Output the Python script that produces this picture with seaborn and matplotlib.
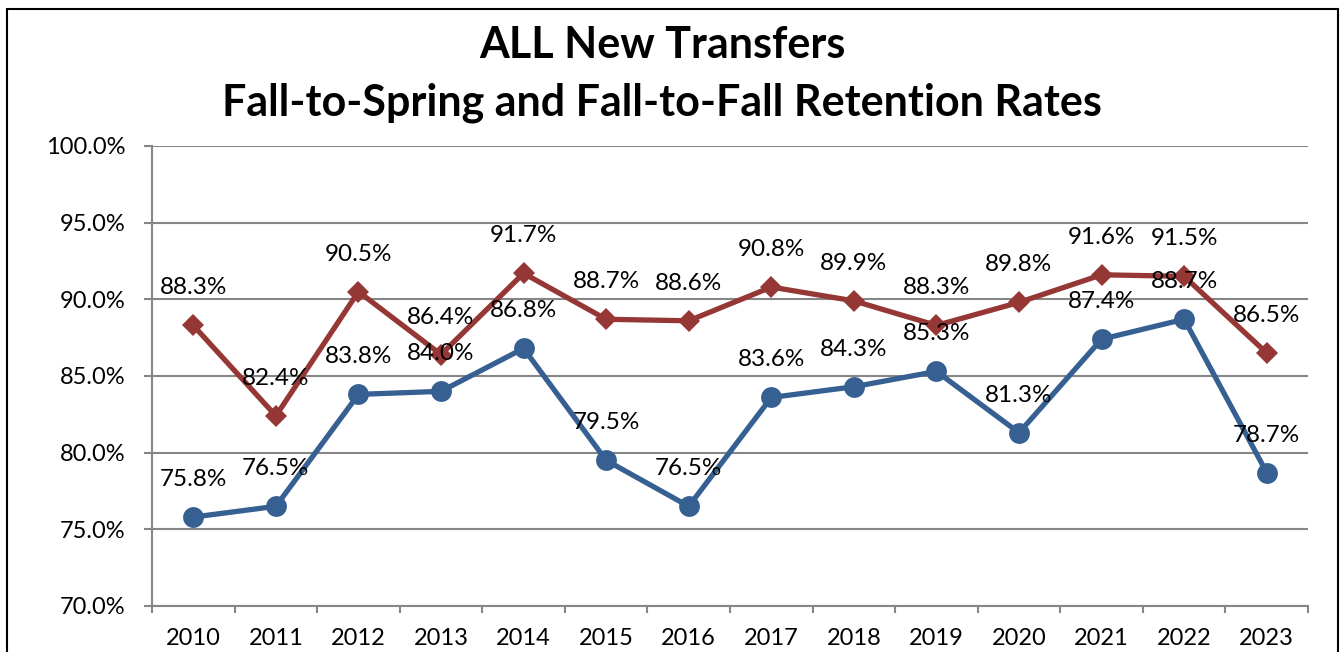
import matplotlib
matplotlib.use("Agg")
import matplotlib.pyplot as plt
import seaborn as sns
import pandas as pd
from matplotlib.patches import Rectangle
from matplotlib.ticker import FixedLocator, FuncFormatter

years = ["2010", "2011", "2012", "2013", "2014", "2015", "2016", "2017",
         "2018", "2019", "2020", "2021", "2022", "2023"]
fall_to_spring = [88.3, 82.4, 90.5, 86.4, 91.7, 88.7, 88.6, 90.8, 89.9, 88.3, 89.8, 91.6, 91.5, 86.5]
fall_to_fall = [75.8, 76.5, 83.8, 84.0, 86.8, 79.5, 76.5, 83.6, 84.3, 85.3, 81.3, 87.4, 88.7, 78.7]
y_ticks = [70, 75, 80, 85, 90, 95, 100]

sns.set_theme(style="white")
FONT = ["Lato", "DejaVu Sans"]
plt.rcParams["font.family"] = FONT

RED = "#953735"
BLUE = "#376092"
GRID = "#868686"

fig = plt.figure(figsize=(13.4, 6.52), dpi=100)
ax = fig.add_axes([152/1340, 1-606/652, (1308-152)/1340, (606-146)/652])

idx = list(range(len(years)))
df = pd.DataFrame({"x": idx, "fts": fall_to_spring, "ftf": fall_to_fall})

sns.lineplot(data=df, x="x", y="ftf", ax=ax, color=BLUE, linewidth=3.8,
             marker="o", markersize=15, markeredgecolor=BLUE, markeredgewidth=0, zorder=3)
sns.lineplot(data=df, x="x", y="fts", ax=ax, color=RED, linewidth=3.8,
             marker="D", markersize=11.5, markeredgecolor=RED, markeredgewidth=0, zorder=4)

for i, v in zip(idx, fall_to_fall):
    ax.annotate(f"{v:.1f}%", (i, v), xytext=(0, 27), textcoords="offset points",
                ha="center", va="center", fontsize=17.5, color="black", zorder=6)
for i, v in zip(idx, fall_to_spring):
    ax.annotate(f"{v:.1f}%", (i, v), xytext=(0, 27), textcoords="offset points",
                ha="center", va="center", fontsize=17.5, color="black", zorder=6)

ax.set_xlim(-0.5, len(years) - 0.5)
ax.set_ylim(70, 100)
ax.yaxis.set_major_locator(FixedLocator(y_ticks))
ax.yaxis.set_major_formatter(FuncFormatter(lambda v, p: f"{v:.1f}%"))
ax.xaxis.set_major_locator(FixedLocator([i - 0.5 for i in range(len(years) + 1)]))
ax.xaxis.set_major_formatter(FuncFormatter(lambda v, p: ""))
ax.xaxis.set_minor_locator(FixedLocator(idx))
ax.xaxis.set_minor_formatter(FuncFormatter(lambda v, p: years[int(round(v))]))

ax.tick_params(axis="y", which="major", direction="out", length=6, width=1.5,
               color=GRID, labelsize=17, pad=13, left=True, labelcolor="black")
ax.tick_params(axis="x", which="major", direction="out", length=5, width=1.5,
               color=GRID, bottom=True)
ax.tick_params(axis="x", which="minor", length=0, labelsize=17, pad=16,
               labelcolor="black", bottom=True)

ax.grid(axis="y", color=GRID, linewidth=1.5, zorder=0)
ax.grid(axis="x", visible=False)
ax.set_axisbelow(True)
for s in ["top", "right"]:
    ax.spines[s].set_visible(False)
for s in ["left", "bottom"]:
    ax.spines[s].set_color(GRID)
    ax.spines[s].set_linewidth(1.5)
ax.set_xlabel("")
ax.set_ylabel("")

fig.text(0.494, 1-45/652, "ALL New Transfers", ha="center", va="center",
         fontsize=31, fontweight="bold", color="black")
fig.text(0.494, 1-103/652, "Fall-to-Spring and Fall-to-Fall Retention Rates",
         ha="center", va="center", fontsize=31, fontweight="bold", color="black")

fig.patches.append(Rectangle((7/1340, -0.05), (1338-7)/1340, 1.05 - 9/652,
                             transform=fig.transFigure, fill=False,
                             edgecolor="black", linewidth=1.5, zorder=10))

fig.savefig("out.png", dpi=100)
